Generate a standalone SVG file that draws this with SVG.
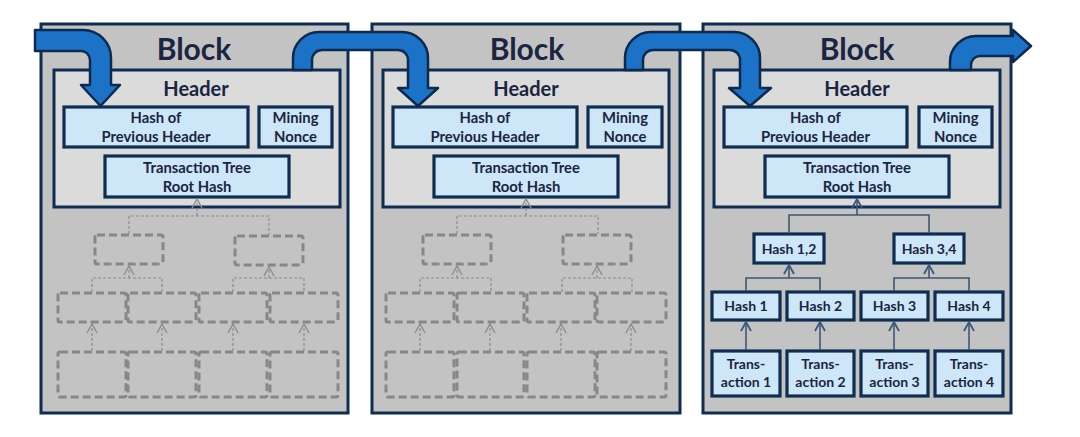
<svg xmlns="http://www.w3.org/2000/svg" width="1080" height="437" viewBox="0 0 1080 437">
<defs>
<style>
.blk{fill:#c3c3c3;stroke:#0f2d50;stroke-width:3}
.hdr{fill:#dbdbdb;stroke:#0f2d50;stroke-width:3}
.box{fill:#cde6f8;stroke:#0f2d50;stroke-width:3.2}
.dbox{fill:none;stroke:#878787;stroke-width:3;stroke-dasharray:8 4}
.t{font-family:Lato,"Liberation Sans",sans-serif;font-weight:bold;fill:#1a2541;text-anchor:middle}
.big{font-size:30px}
.mid{font-size:20px}
.sm{font-size:14.8px}
.xs{font-size:14px}
.dc{fill:none;stroke:#8c8c8c;stroke-width:1.2;stroke-dasharray:3 2}
.sc{fill:none;stroke:#3b5876;stroke-width:1.6}
.arr{fill:#1b72c6;stroke:#0c2a4e;stroke-width:2.5;stroke-linejoin:round}
</style>
<marker id="sa" markerUnits="userSpaceOnUse" markerWidth="12" markerHeight="12" viewBox="-6 -1 12 12" refX="0" refY="0" orient="0">
<path d="M-5,9 L0,0 L5,9" fill="none" stroke="#3b5876" stroke-width="1.8"/>
</marker>
<marker id="dup" markerUnits="userSpaceOnUse" markerWidth="12" markerHeight="12" viewBox="-6 -1 12 12" refX="0" refY="0" orient="0">
<path d="M-5,9 L0,0 L5,9" fill="none" stroke="#8c8c8c" stroke-width="1.4"/>
</marker>
</defs>
<rect width="1080" height="437" fill="#ffffff"/>

<g id="block1">
<rect class="blk" x="41" y="24" width="307" height="389"/>
<text class="t big" x="194" y="60">Block</text>
<rect class="hdr" x="54" y="70" width="286" height="137"/>
<text class="t mid" x="196" y="96">Header</text>
<g id="b1-prev"><rect class="box" x="64" y="107" width="184" height="40"/><text class="t sm" x="156" y="123">Hash of</text><text class="t sm" x="156" y="142">Previous Header</text></g>
<g id="b1-nonce"><rect class="box" x="259" y="107" width="73" height="40"/><text class="t sm" x="295.5" y="123">Mining</text><text class="t sm" x="295.5" y="142">Nonce</text></g>
<g id="b1-root"><rect class="box" x="105" y="156" width="184" height="41"/><text class="t sm" x="197" y="173">Transaction Tree</text><text class="t sm" x="197" y="192">Root Hash</text></g>
<g id="b1-tree">
<rect class="dbox" x="95" y="235" width="68" height="29" rx="2"/>
<rect class="dbox" x="235" y="236" width="68" height="29" rx="2"/>
<rect class="dbox" x="58" y="293" width="68" height="29" rx="2"/>
<rect class="dbox" x="128" y="293" width="68" height="29" rx="2"/>
<rect class="dbox" x="199" y="293" width="68" height="29" rx="2"/>
<rect class="dbox" x="270" y="293" width="68" height="29" rx="2"/>
<rect class="dbox" x="58" y="352" width="68" height="45" rx="2"/>
<rect class="dbox" x="128" y="352" width="68" height="45" rx="2"/>
<rect class="dbox" x="199" y="352" width="68" height="45" rx="2"/>
<rect class="dbox" x="270" y="352" width="68" height="45" rx="2"/>
</g>
</g>

<g id="block2">
<rect class="blk" x="372" y="24" width="308" height="389"/>
<text class="t big" x="527" y="60">Block</text>
<rect class="hdr" x="383" y="70" width="286" height="137"/>
<text class="t mid" x="526" y="96">Header</text>
<g id="b2-prev"><rect class="box" x="393" y="107" width="184" height="40"/><text class="t sm" x="485" y="123">Hash of</text><text class="t sm" x="485" y="142">Previous Header</text></g>
<g id="b2-nonce"><rect class="box" x="588" y="107" width="74" height="40"/><text class="t sm" x="625" y="123">Mining</text><text class="t sm" x="625" y="142">Nonce</text></g>
<g id="b2-root"><rect class="box" x="434" y="156" width="184" height="41"/><text class="t sm" x="526" y="173">Transaction Tree</text><text class="t sm" x="526" y="192">Root Hash</text></g>
<g id="b2-tree">
<rect class="dbox" x="423" y="235" width="68" height="29" rx="2"/>
<rect class="dbox" x="563" y="235" width="68" height="29" rx="2"/>
<rect class="dbox" x="386" y="293" width="68" height="29" rx="2"/>
<rect class="dbox" x="457" y="293" width="67" height="29" rx="2"/>
<rect class="dbox" x="527" y="293" width="68" height="29" rx="2"/>
<rect class="dbox" x="597" y="293" width="69" height="29" rx="2"/>
<rect class="dbox" x="386" y="352" width="68" height="45" rx="2"/>
<rect class="dbox" x="457" y="352" width="67" height="45" rx="2"/>
<rect class="dbox" x="527" y="352" width="68" height="45" rx="2"/>
<rect class="dbox" x="597" y="352" width="69" height="45" rx="2"/>
</g>
</g>

<g id="block3">
<rect class="blk" x="703" y="24" width="308" height="389"/>
<text class="t big" x="857" y="60">Block</text>
<rect class="hdr" x="714" y="70" width="286" height="137"/>
<text class="t mid" x="857" y="96">Header</text>
<g id="b3-prev"><rect class="box" x="724" y="107" width="183" height="40"/><text class="t sm" x="815.5" y="123">Hash of</text><text class="t sm" x="815.5" y="142">Previous Header</text></g>
<g id="b3-nonce"><rect class="box" x="919" y="107" width="73" height="40"/><text class="t sm" x="955.5" y="123">Mining</text><text class="t sm" x="955.5" y="142">Nonce</text></g>
<g id="b3-root"><rect class="box" x="765" y="156" width="184" height="41"/><text class="t sm" x="857" y="173">Transaction Tree</text><text class="t sm" x="857" y="192">Root Hash</text></g>
<g id="b3-h12"><rect class="box" x="754" y="234" width="70" height="29"/><text class="t xs" x="789" y="253.5">Hash 1,2</text></g>
<g id="b3-h34"><rect class="box" x="894" y="234" width="70" height="29"/><text class="t xs" x="929" y="253.5">Hash 3,4</text></g>
<g id="b3-h1"><rect class="box" x="712" y="292" width="68" height="28"/><text class="t xs" x="746" y="311">Hash 1</text></g>
<g id="b3-h2"><rect class="box" x="787" y="292" width="67" height="28"/><text class="t xs" x="820.5" y="311">Hash 2</text></g>
<g id="b3-h3"><rect class="box" x="861" y="292" width="67" height="28"/><text class="t xs" x="894.5" y="311">Hash 3</text></g>
<g id="b3-h4"><rect class="box" x="935" y="292" width="68" height="28"/><text class="t xs" x="969" y="311">Hash 4</text></g>
<g id="b3-t1"><rect class="box" x="712" y="351" width="68" height="45"/><text class="t xs" x="746" y="368.5">Trans-</text><text class="t xs" x="746" y="387">action 1</text></g>
<g id="b3-t2"><rect class="box" x="787" y="351" width="67" height="45"/><text class="t xs" x="820.5" y="368.5">Trans-</text><text class="t xs" x="820.5" y="387">action 2</text></g>
<g id="b3-t3"><rect class="box" x="861" y="351" width="67" height="45"/><text class="t xs" x="894.5" y="368.5">Trans-</text><text class="t xs" x="894.5" y="387">action 3</text></g>
<g id="b3-t4"><rect class="box" x="935" y="351" width="68" height="45"/><text class="t xs" x="969" y="368.5">Trans-</text><text class="t xs" x="969" y="387">action 4</text></g>
</g>

<g id="connectors">
<path class="dc" d="M129 234 V216 H269 V235"/>
<path class="dc" d="M197 216 V199" marker-end="url(#dup)"/>
<path class="dc" d="M92 292 V278 H162 V292"/>
<path class="dc" d="M129 278 V266" marker-end="url(#dup)"/>
<path class="dc" d="M233 292 V278 H304 V292"/>
<path class="dc" d="M269 278 V267" marker-end="url(#dup)"/>
<path class="dc" d="M92 351 V324" marker-end="url(#dup)"/>
<path class="dc" d="M162 351 V324" marker-end="url(#dup)"/>
<path class="dc" d="M233 351 V324" marker-end="url(#dup)"/>
<path class="dc" d="M304 351 V324" marker-end="url(#dup)"/>

<path class="dc" d="M457 234 V216 H598 V234"/>
<path class="dc" d="M526 216 V199" marker-end="url(#dup)"/>
<path class="dc" d="M420 292 V278 H491 V292"/>
<path class="dc" d="M457 278 V266" marker-end="url(#dup)"/>
<path class="dc" d="M562 292 V278 H632 V292"/>
<path class="dc" d="M597 278 V266" marker-end="url(#dup)"/>
<path class="dc" d="M420 351 V324" marker-end="url(#dup)"/>
<path class="dc" d="M490 351 V324" marker-end="url(#dup)"/>
<path class="dc" d="M561 351 V324" marker-end="url(#dup)"/>
<path class="dc" d="M631 351 V324" marker-end="url(#dup)"/>

<path class="sc" d="M789 233 V215 H929 V233"/>
<path class="sc" d="M857 215 V199" marker-end="url(#sa)"/>
<path class="sc" d="M746 291 V278 H820 V291"/>
<path class="sc" d="M789 278 V265" marker-end="url(#sa)"/>
<path class="sc" d="M894 291 V278 H969 V291"/>
<path class="sc" d="M929 278 V265" marker-end="url(#sa)"/>
<path class="sc" d="M746 350 V322" marker-end="url(#sa)"/>
<path class="sc" d="M820 350 V322" marker-end="url(#sa)"/>
<path class="sc" d="M894 350 V322" marker-end="url(#sa)"/>
<path class="sc" d="M969 350 V322" marker-end="url(#sa)"/>

<path id="arrow1" class="arr" d="M35 30 L83 30 A28 28 0 0 1 111 58 L111 85 L120 85 L100.5 106 L81 85 L90 85 L90 60 A9 9 0 0 0 81 51 L35 51 Z"/>
<path id="arrow2" class="arr" d="M293 70 L293 58 A26 26 0 0 1 319 32 L402 32 A26 26 0 0 1 428 58 L428 88 L438 88 L418 106 L398 88 L408 88 L408 60 A10 10 0 0 0 398 50 L322 50 A10 10 0 0 0 312 60 L312 70 Z"/>
<path id="arrow3" class="arr" d="M625 70 L625 58 A26 26 0 0 1 651 32 L734 32 A26 26 0 0 1 760 58 L760 88 L771 88 L750 106 L729 88 L740 88 L740 60 A10 10 0 0 0 730 50 L653 50 A10 10 0 0 0 643 60 L643 70 Z"/>
<path id="arrow4" class="arr" d="M950 70 L950 62 A26 26 0 0 1 976 36 L1013 36 L1013 30 L1031 46 L1013 62 L1013 56 L980 56 A9 9 0 0 0 971 65 L971 70 Z"/>
</g>
</svg>
